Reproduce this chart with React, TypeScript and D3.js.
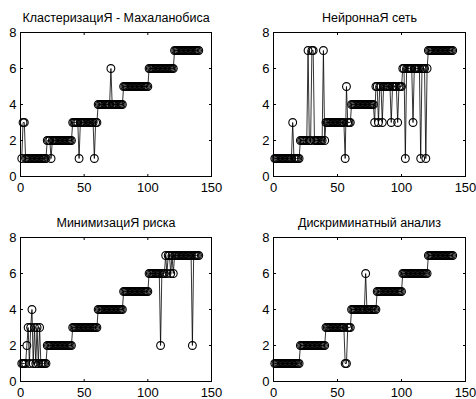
import React from 'react';
import * as d3 from 'd3';

// predicted class for samples 1..140, one row per block of 20
const mahalanobis = [
  1, 3, 3, 1, 1, 1, 1, 1, 1, 1, 1, 1, 1, 1, 1, 1, 1, 1, 1, 1,
  2, 2, 2, 1, 2, 2, 2, 2, 2, 2, 2, 2, 2, 2, 2, 2, 2, 2, 2, 2,
  3, 3, 3, 3, 3, 1, 3, 3, 3, 3, 3, 3, 3, 3, 3, 3, 3, 1, 3, 3,
  4, 4, 4, 4, 4, 4, 4, 4, 4, 4, 6, 4, 4, 4, 4, 4, 4, 4, 4, 4,
  5, 5, 5, 5, 5, 5, 5, 5, 5, 5, 5, 5, 5, 5, 5, 5, 5, 5, 5, 5,
  6, 6, 6, 6, 6, 6, 6, 6, 6, 6, 6, 6, 6, 6, 6, 6, 6, 6, 6, 6,
  7, 7, 7, 7, 7, 7, 7, 7, 7, 7, 7, 7, 7, 7, 7, 7, 7, 7, 7, 7,
];

const neural = [
  1, 1, 1, 1, 1, 1, 1, 1, 1, 1, 1, 1, 1, 1, 3, 1, 1, 1, 1, 1,
  2, 2, 2, 2, 2, 2, 7, 2, 2, 7, 7, 2, 2, 2, 2, 2, 2, 2, 7, 2,
  3, 3, 3, 3, 3, 3, 3, 3, 3, 3, 3, 3, 3, 3, 3, 1, 5, 3, 3, 3,
  4, 4, 4, 4, 4, 4, 4, 4, 4, 4, 4, 4, 4, 4, 4, 4, 4, 4, 3, 5,
  5, 3, 5, 5, 3, 5, 5, 5, 5, 5, 5, 3, 5, 5, 5, 5, 3, 5, 5, 5,
  6, 6, 1, 6, 6, 6, 6, 6, 3, 6, 6, 6, 6, 6, 1, 6, 6, 6, 1, 6,
  7, 7, 7, 7, 7, 7, 7, 7, 7, 7, 7, 7, 7, 7, 7, 7, 7, 7, 7, 7,
];

const risk = [
  1, 1, 1, 1, 2, 3, 1, 3, 4, 1, 3, 1, 3, 1, 3, 1, 1, 1, 1, 1,
  2, 2, 2, 2, 2, 2, 2, 2, 2, 2, 2, 2, 2, 2, 2, 2, 2, 2, 2, 2,
  3, 3, 3, 3, 3, 3, 3, 3, 3, 3, 3, 3, 3, 3, 3, 3, 3, 3, 3, 3,
  4, 4, 4, 4, 4, 4, 4, 4, 4, 4, 4, 4, 4, 4, 4, 4, 4, 4, 4, 4,
  5, 5, 5, 5, 5, 5, 5, 5, 5, 5, 5, 5, 5, 5, 5, 5, 5, 5, 5, 5,
  6, 6, 6, 6, 6, 6, 6, 6, 6, 2, 6, 6, 6, 7, 6, 7, 7, 6, 7, 6,
  7, 7, 7, 7, 7, 7, 7, 7, 7, 7, 7, 7, 7, 7, 2, 7, 7, 7, 7, 7,
];

const discriminant = [
  1, 1, 1, 1, 1, 1, 1, 1, 1, 1, 1, 1, 1, 1, 1, 1, 1, 1, 1, 1,
  2, 2, 2, 2, 2, 2, 2, 2, 2, 2, 2, 2, 2, 2, 2, 2, 2, 2, 2, 2,
  3, 3, 3, 3, 3, 3, 3, 3, 3, 3, 3, 3, 3, 3, 3, 1, 1, 3, 3, 3,
  4, 4, 4, 4, 4, 4, 4, 4, 4, 4, 4, 6, 4, 4, 4, 4, 4, 4, 4, 4,
  5, 5, 5, 5, 5, 5, 5, 5, 5, 5, 5, 5, 5, 5, 5, 5, 5, 5, 5, 5,
  6, 6, 6, 6, 6, 6, 6, 6, 6, 6, 6, 6, 6, 6, 6, 6, 6, 6, 6, 6,
  7, 7, 7, 7, 7, 7, 7, 7, 7, 7, 7, 7, 7, 7, 7, 7, 7, 7, 7, 7,
];

const titles = [
  'КластеризациЯ - Махаланобиса',
  'НейроннаЯ сеть',
  'МинимизациЯ риска',
  'Дискриминатный анализ',
];
const series = [mahalanobis, neural, risk, discriminant];

const xTicks = [0, 50, 100, 150];
const yTicks = [0, 2, 4, 6, 8];

const W = 476;
const H = 399;
// axes boxes (left, top, right, bottom)
const boxes = [
  [20.5, 32.5, 211.5, 176.5],
  [273.5, 32.5, 465.5, 176.5],
  [20.5, 237.5, 211.5, 381.5],
  [273.5, 237.5, 465.5, 381.5],
];
const font = '"Liberation Sans", Arial, sans-serif';

function Panel({ idx }: { idx: number }) {
  const [l, t, r, b] = boxes[idx];
  const data = series[idx];
  const x = d3.scaleLinear().domain([0, 150]).range([l, r]);
  const y = d3.scaleLinear().domain([0, 8]).range([b, t]);
  const pts: [number, number][] = data.map((v, i) => [x(i + 1), y(v)]);
  const line = d3.line()(pts) || '';
  const tl = 2.5;
  return (
    <g>
      <text x={(l + r) / 2} y={t - 11} textAnchor="middle" fontSize={12.5} fontFamily={font}>
        {titles[idx]}
      </text>
      <path d={line} fill="none" stroke="#000" strokeWidth={0.8} />
      {pts.map((p, i) => (
        <circle key={i} cx={p[0]} cy={p[1]} r={3.9} fill="none" stroke="#000" strokeWidth={1.1} />
      ))}
      <rect x={l} y={t} width={r - l} height={b - t} fill="none" stroke="#000" strokeWidth={1} />
      {xTicks.map((v) => (
        <g key={'x' + v}>
          <line x1={x(v)} x2={x(v)} y1={b} y2={b - tl} stroke="#000" />
          <line x1={x(v)} x2={x(v)} y1={t} y2={t + tl} stroke="#000" />
          <text x={x(v)} y={b + 15.5} textAnchor="middle" fontSize={13} fontFamily={font}>
            {v}
          </text>
        </g>
      ))}
      {yTicks.map((v) => (
        <g key={'y' + v}>
          <line x1={l} x2={l + tl} y1={y(v)} y2={y(v)} stroke="#000" />
          <line x1={r} x2={r - tl} y1={y(v)} y2={y(v)} stroke="#000" />
          <text x={l - 4} y={y(v) + 4.5} textAnchor="end" fontSize={13} fontFamily={font}>
            {v}
          </text>
        </g>
      ))}
    </g>
  );
}

export default function App() {
  return (
    <svg
      width={W}
      height={H}
      style={{ position: 'absolute', left: 0, top: 0, background: '#fff' }}
    >
      {series.map((_, i) => (
        <Panel key={i} idx={i} />
      ))}
    </svg>
  );
}
